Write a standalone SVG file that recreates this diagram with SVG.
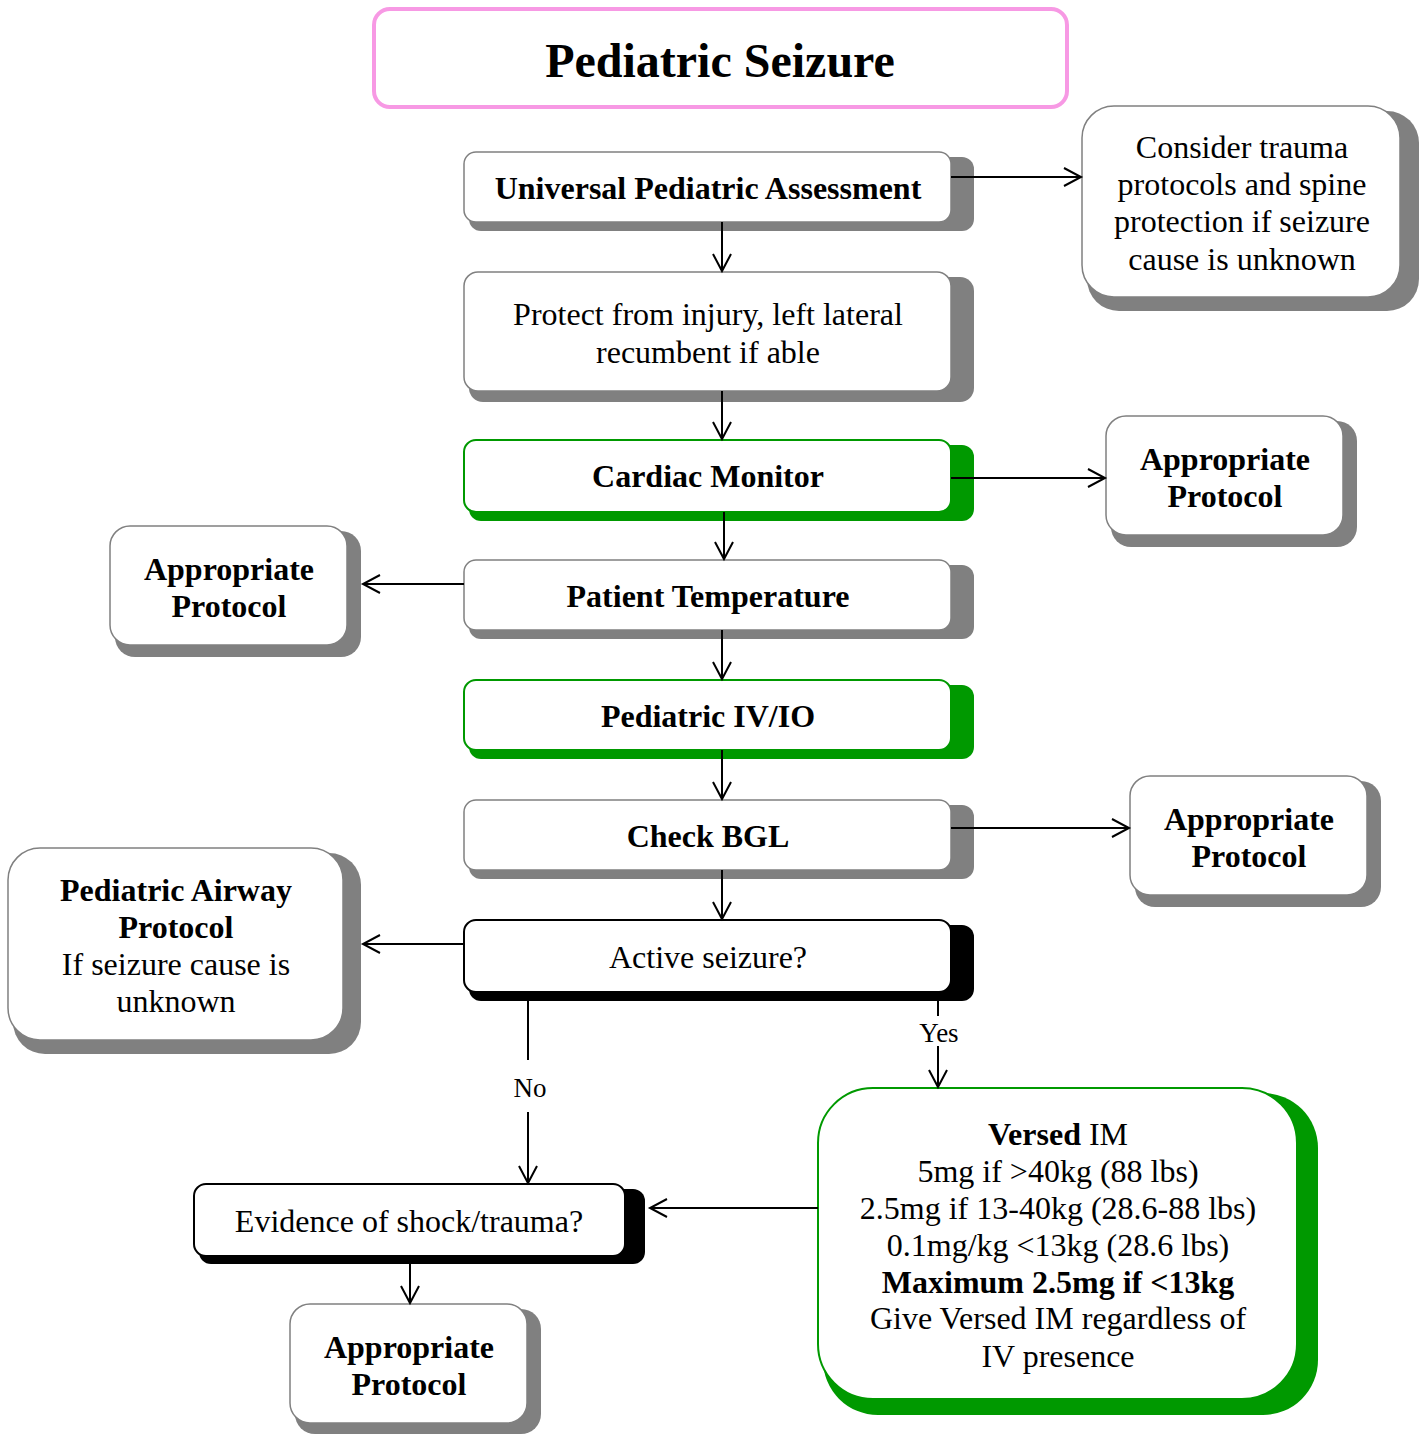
<svg xmlns="http://www.w3.org/2000/svg" width="1424" height="1435" viewBox="0 0 1424 1435">
<defs>
<style>
text{font-family:"Liberation Serif","Times New Roman",serif;fill:#000;text-anchor:middle}
.b{font-weight:bold}
.t{font-size:32px}
.l{font-size:27px}
.sh{fill:#808080}
.shg{fill:#009900}
.shk{fill:#000}
.bx{fill:#fff;stroke:#808080;stroke-width:1.5}
.bxg{fill:#fff;stroke:#009900;stroke-width:2}
.bxk{fill:#fff;stroke:#000;stroke-width:2}
.c{fill:none;stroke:#000;stroke-width:2}
</style>
<marker id="ah" markerUnits="userSpaceOnUse" markerWidth="24" markerHeight="24" viewBox="-20 -12 24 24" refX="0" refY="0" orient="auto">
<path d="M-17,-9 L0,0 L-17,9" fill="none" stroke="#000" stroke-width="2"/>
</marker>
</defs>

<g id="title">
<rect x="374" y="9" width="693" height="98" rx="16" fill="#fff" stroke="#f799e4" stroke-width="4"/>
<text x="720" y="77" class="b" font-size="48">Pediatric Seizure</text>
</g>

<g id="universal">
<rect class="sh" x="469" y="157" width="505" height="74" rx="12"/>
<rect class="bx" x="464" y="152" width="487" height="70" rx="12"/>
<text class="t b" x="708" y="199">Universal Pediatric Assessment</text>
</g>

<g id="protect">
<rect class="sh" x="469" y="277" width="505" height="125" rx="14"/>
<rect class="bx" x="464" y="272" width="487" height="119" rx="14"/>
<text class="t" x="708" y="325">Protect from injury, left lateral</text>
<text class="t" x="708" y="363">recumbent if able</text>
</g>

<g id="cardiac">
<rect class="shg" x="469" y="445" width="505" height="76" rx="12"/>
<rect class="bxg" x="464" y="440" width="487" height="72" rx="12"/>
<text class="t b" x="708" y="487">Cardiac Monitor</text>
</g>

<g id="temperature">
<rect class="sh" x="469" y="565" width="505" height="74" rx="12"/>
<rect class="bx" x="464" y="560" width="487" height="70" rx="12"/>
<text class="t b" x="708" y="607">Patient Temperature</text>
</g>

<g id="ivio">
<rect class="shg" x="469" y="685" width="505" height="74" rx="12"/>
<rect class="bxg" x="464" y="680" width="487" height="70" rx="12"/>
<text class="t b" x="708" y="727">Pediatric IV/IO</text>
</g>

<g id="bgl">
<rect class="sh" x="469" y="805" width="505" height="74" rx="12"/>
<rect class="bx" x="464" y="800" width="487" height="70" rx="12"/>
<text class="t b" x="708" y="847">Check BGL</text>
</g>

<g id="active">
<rect class="shk" x="469" y="925" width="505" height="76" rx="12"/>
<rect class="bxk" x="464" y="920" width="487" height="72" rx="12"/>
<text class="t" x="708" y="968">Active seizure?</text>
</g>

<g id="consider">
<rect class="sh" x="1087" y="111" width="332" height="200" rx="32"/>
<rect class="bx" x="1082" y="106" width="318" height="191" rx="32"/>
<text class="t" x="1242" y="158">Consider trauma</text>
<text class="t" x="1242" y="195">protocols and spine</text>
<text class="t" x="1242" y="232">protection if seizure</text>
<text class="t" x="1242" y="270">cause is unknown</text>
</g>

<g id="approp1">
<rect class="sh" x="1111" y="421" width="246" height="126" rx="20"/>
<rect class="bx" x="1106" y="416" width="237" height="119" rx="20"/>
<text class="t b" x="1225" y="470">Appropriate</text>
<text class="t b" x="1225" y="507">Protocol</text>
</g>

<g id="approp2">
<rect class="sh" x="115" y="531" width="246" height="126" rx="20"/>
<rect class="bx" x="110" y="526" width="237" height="119" rx="20"/>
<text class="t b" x="229" y="580">Appropriate</text>
<text class="t b" x="229" y="617">Protocol</text>
</g>

<g id="approp3">
<rect class="sh" x="1135" y="781" width="246" height="126" rx="20"/>
<rect class="bx" x="1130" y="776" width="237" height="119" rx="20"/>
<text class="t b" x="1249" y="830">Appropriate</text>
<text class="t b" x="1249" y="867">Protocol</text>
</g>

<g id="airway">
<rect class="sh" x="13" y="853" width="348" height="201" rx="32"/>
<rect class="bx" x="8" y="848" width="335" height="192" rx="32"/>
<text class="t b" x="176" y="901">Pediatric Airway</text>
<text class="t b" x="176" y="938">Protocol</text>
<text class="t" x="176" y="975">If seizure cause is</text>
<text class="t" x="176" y="1012">unknown</text>
</g>

<g id="versed">
<rect class="shg" x="823" y="1093" width="495" height="322" rx="55"/>
<rect class="bxg" x="818" y="1088" width="479" height="311" rx="55"/>
<text class="t" x="1058" y="1145"><tspan class="b">Versed</tspan> IM</text>
<text class="t" x="1058" y="1182">5mg if &gt;40kg (88 lbs)</text>
<text class="t" x="1058" y="1219">2.5mg if 13-40kg (28.6-88 lbs)</text>
<text class="t" x="1058" y="1256">0.1mg/kg &lt;13kg (28.6 lbs)</text>
<text class="t b" x="1058" y="1293">Maximum 2.5mg if &lt;13kg</text>
<text class="t" x="1058" y="1329">Give Versed IM regardless of</text>
<text class="t" x="1058" y="1367">IV presence</text>
</g>

<g id="evidence">
<rect class="shk" x="199" y="1189" width="446" height="75" rx="12"/>
<rect class="bxk" x="194" y="1184" width="431" height="72" rx="12"/>
<text class="t" x="409" y="1232">Evidence of shock/trauma?</text>
</g>

<g id="approp4">
<rect class="sh" x="295" y="1309" width="246" height="125" rx="20"/>
<rect class="bx" x="290" y="1304" width="237" height="119" rx="20"/>
<text class="t b" x="409" y="1358">Appropriate</text>
<text class="t b" x="409" y="1395">Protocol</text>
</g>

<g id="connectors">
<line class="c" x1="722" y1="222" x2="722" y2="271" marker-end="url(#ah)"/>
<line class="c" x1="722" y1="391" x2="722" y2="439" marker-end="url(#ah)"/>
<line class="c" x1="724" y1="512" x2="724" y2="559" marker-end="url(#ah)"/>
<line class="c" x1="722" y1="630" x2="722" y2="679" marker-end="url(#ah)"/>
<line class="c" x1="722" y1="750" x2="722" y2="799" marker-end="url(#ah)"/>
<line class="c" x1="722" y1="870" x2="722" y2="919" marker-end="url(#ah)"/>
<line class="c" x1="951" y1="177" x2="1081" y2="177" marker-end="url(#ah)"/>
<line class="c" x1="951" y1="478" x2="1105" y2="478" marker-end="url(#ah)"/>
<line class="c" x1="951" y1="828" x2="1129" y2="828" marker-end="url(#ah)"/>
<line class="c" x1="464" y1="584" x2="363" y2="584" marker-end="url(#ah)"/>
<line class="c" x1="464" y1="944" x2="363" y2="944" marker-end="url(#ah)"/>
<line class="c" x1="528" y1="1001" x2="528" y2="1060"/>
<line class="c" x1="528" y1="1112" x2="528" y2="1183" marker-end="url(#ah)"/>
<text class="l" x="530" y="1097">No</text>
<line class="c" x1="938" y1="1001" x2="938" y2="1016"/>
<line class="c" x1="938" y1="1046" x2="938" y2="1087" marker-end="url(#ah)"/>
<text class="l" x="939" y="1042">Yes</text>
<line class="c" x1="818" y1="1208" x2="650" y2="1208" marker-end="url(#ah)"/>
<line class="c" x1="410" y1="1264" x2="410" y2="1303" marker-end="url(#ah)"/>
</g>
</svg>
